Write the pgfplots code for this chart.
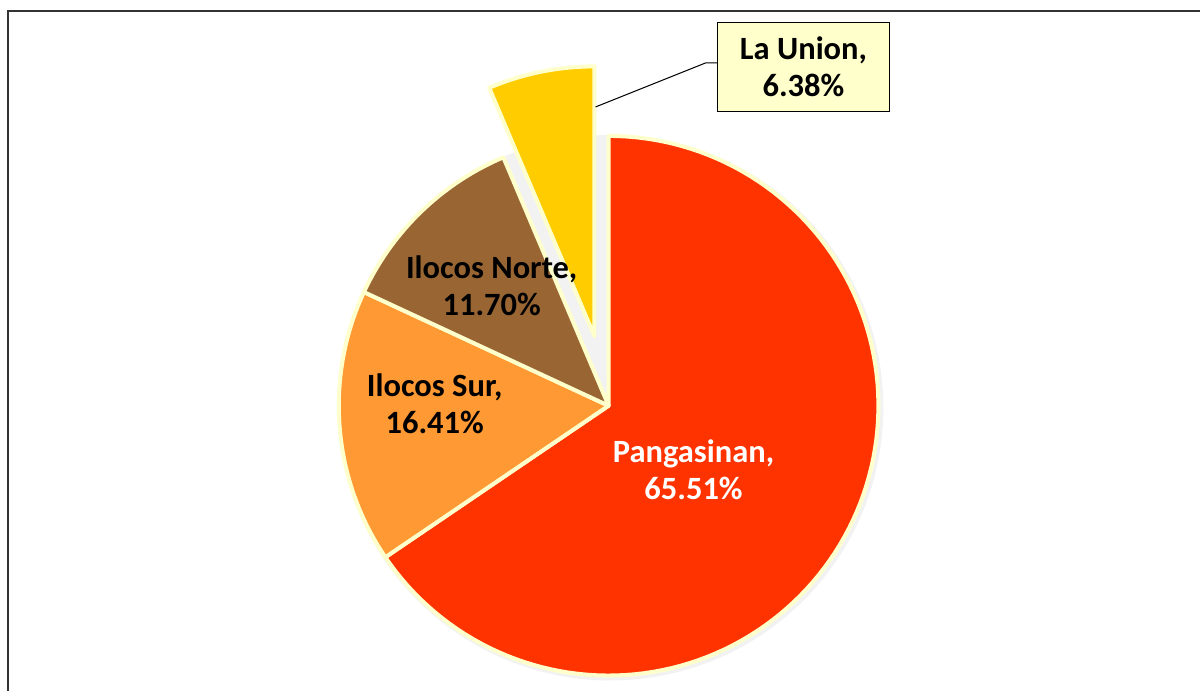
\documentclass[border=0pt]{standalone}
\usepackage{pgfplots}
\pgfplotsset{compat=1.18}
\usepackage{fontspec}
\setmainfont{Carlito}
\definecolor{cP}{HTML}{FF3300}
\definecolor{cS}{HTML}{FF9933}
\definecolor{cN}{HTML}{996633}
\definecolor{cU}{HTML}{FFCC00}
\definecolor{edge}{HTML}{FFFFCC}
\definecolor{boxfill}{HTML}{FFFFCC}
% data (percent)
\def\vP{65.51}
\def\vS{16.41}
\def\vN{11.70}
\def\vU{6.38}
\begin{document}
\begin{tikzpicture}
\pgfmathsetmacro{\aP}{90-3.6*\vP}
\pgfmathsetmacro{\aS}{\aP-3.6*\vS}
\pgfmathsetmacro{\aN}{\aS-3.6*\vN}
\pgfmathsetmacro{\aU}{\aN-3.6*\vU}
\pgfmathsetmacro{\mU}{(\aN+\aU)/2}
\pgfmathsetmacro{\ux}{609+71*cos(\mU)}
\pgfmathsetmacro{\uy}{285+71*sin(\mU)}
\begin{axis}[
  width=1201pt, height=691pt, scale only axis,
  xmin=0, xmax=1201, ymin=0, ymax=691,
  hide axis, clip=false,
]
\path (axis cs:0,0) rectangle (axis cs:1201,691);
\draw[line width=1.6pt, black!80] (axis cs:8,0) -- (axis cs:8,680) -- (axis cs:1201,680);
% soft shadows
\addplot[fill=black, opacity=0.05, draw=none, domain=\aS:90, samples=120, variable=\t]
  ({611+273*cos(\t)},{283+273*sin(\t)}) -- (axis cs:611,283) -- cycle;
\addplot[fill=black, opacity=0.05, draw=none, domain=\aU:\aS, samples=60, variable=\t]
  ({611+273*cos(\t)},{283+273*sin(\t)}) -- (axis cs:611,283) -- cycle;
\addplot[fill=black, opacity=0.05, draw=none, domain=\aU:\aN, samples=30, variable=\t]
  ({\ux+2+273*cos(\t)},{\uy-2+273*sin(\t)}) -- (axis cs:\ux+2,\uy-2) -- cycle;
% slices
\addplot[fill=cP, draw=edge, line width=4pt, line join=round, domain=\aP:90, samples=120, variable=\t]
  ({609+270*cos(\t)},{285+270*sin(\t)}) -- (axis cs:609,285) -- cycle;
\addplot[fill=cS, draw=edge, line width=4pt, line join=round, domain=\aS:\aP, samples=40, variable=\t]
  ({609+270*cos(\t)},{285+270*sin(\t)}) -- (axis cs:609,285) -- cycle;
\addplot[fill=cN, draw=edge, line width=4pt, line join=round, domain=\aN:\aS, samples=30, variable=\t]
  ({609+270*cos(\t)},{285+270*sin(\t)}) -- (axis cs:609,285) -- cycle;
\addplot[fill=cU, draw=edge, line width=4pt, line join=round, domain=\aU:\aN, samples=20, variable=\t]
  ({\ux+270*cos(\t)},{\uy+270*sin(\t)}) -- (axis cs:\ux,\uy) -- cycle;
% labels
\node[font=\fontsize{32.5}{37}\selectfont\bfseries, text=white, align=center] at (axis cs:694,221) {Pangasinan,\\65.51\%};
\node[font=\fontsize{32.5}{37}\selectfont\bfseries, text=black, align=center] at (axis cs:435,287) {Ilocos Sur,\\16.41\%};
\node[font=\fontsize{32.5}{37}\selectfont\bfseries, text=black, align=center] at (axis cs:492,405) {Ilocos Norte,\\11.70\%};
\draw[black, line width=1pt] (axis cs:596,584) -- (axis cs:706,628) -- (axis cs:718,628);
\node[font=\fontsize{32.5}{37}\selectfont\bfseries, text=black, align=center, fill=boxfill, draw=black, line width=1.6pt, minimum width=172pt, minimum height=89pt, inner sep=0pt] at (axis cs:804,624) {La Union,\\6.38\%};
\end{axis}
\end{tikzpicture}
\end{document}
